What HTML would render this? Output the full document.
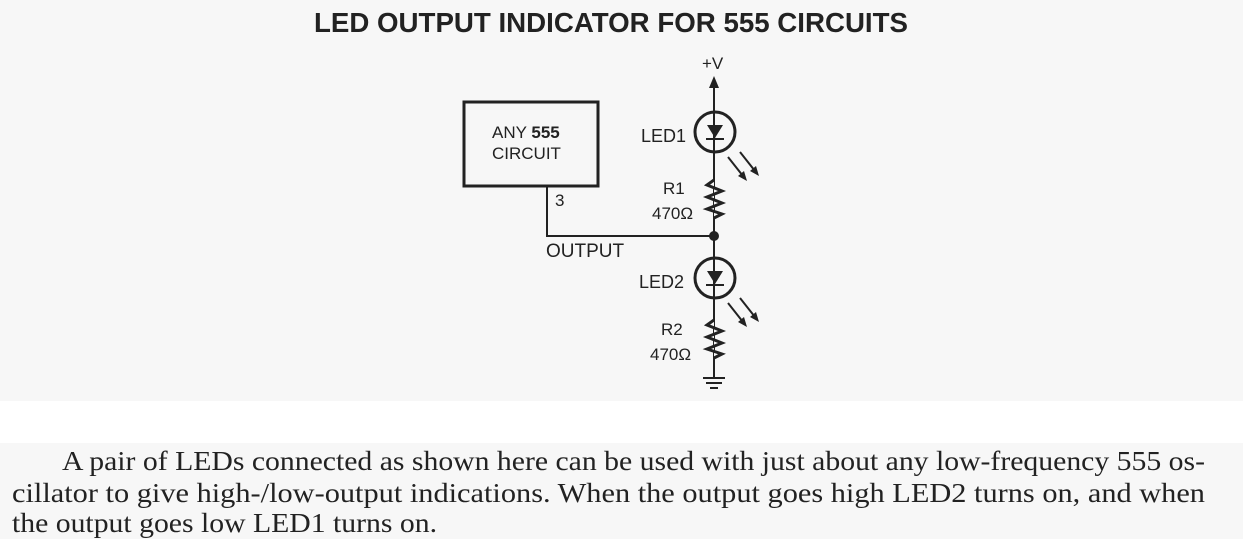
<!DOCTYPE html>
<html><head><meta charset="utf-8"><style>
html,body{margin:0;padding:0;background:#f7f7f7;}
.w{position:relative;width:1243px;height:539px;overflow:hidden;background:#f7f7f7;}
svg{position:absolute;left:0;top:0;}
</style></head><body><div class="w">
<svg width="1243" height="539" viewBox="0 0 1243 539">
<rect x="0" y="401" width="1243" height="42" fill="#fff"/>
<text x="314" y="32" font-family="Liberation Sans, sans-serif" font-weight="bold" font-size="28" textLength="594" lengthAdjust="spacingAndGlyphs" fill="#222">LED OUTPUT INDICATOR FOR 555 CIRCUITS</text>
<g stroke="#222" fill="none" stroke-width="2">
<rect x="464" y="102" width="134" height="84" stroke-width="3"/>
<polyline points="547,186 547,236 714,236"/>
<line x1="714" y1="84" x2="714" y2="378"/>
<circle cx="715" cy="132" r="20" stroke-width="3"/>
<circle cx="715" cy="278" r="20" stroke-width="3"/>
<line x1="706" y1="139" x2="724" y2="139"/>
<line x1="706" y1="285" x2="724" y2="285"/>
<polyline points="714,180 707,185 722,191 707,197 722,203 707,209 722,214 714,218" fill="#f7f7f7" stroke-width="3"/>
<polyline points="714,320 707,325 722,331 707,337 722,343 707,349 722,354 714,358" fill="#f7f7f7" stroke-width="3"/>
<line x1="703" y1="378" x2="725" y2="378"/>
<line x1="706" y1="383" x2="722" y2="383"/>
<line x1="710" y1="388" x2="718" y2="388"/>
<line x1="728" y1="157" x2="743" y2="176"/>
<line x1="740" y1="152" x2="755" y2="171"/>
<line x1="728" y1="303" x2="743" y2="322"/>
<line x1="740" y1="298" x2="755" y2="317"/>
</g>
<g fill="#222">
<polygon points="714,76 709,88 719,88"/>
<polygon points="707,125 723,125 715,138"/>
<polygon points="707,271 723,271 715,284"/>
<circle cx="714" cy="236" r="5"/>
<polygon points="747,181 738,176 744,171"/>
<polygon points="759,176 750,171 756,166"/>
<polygon points="747,327 738,322 744,317"/>
<polygon points="759,322 750,317 756,312"/>
</g>
<g font-family="Liberation Sans, sans-serif" font-size="17" fill="#222">
<text x="702" y="69">+V</text>
<text x="492" y="138">ANY <tspan font-weight="bold">555</tspan></text>
<text x="492" y="159">CIRCUIT</text>
<text x="555" y="206">3</text>
<text x="546" y="257" font-size="19">OUTPUT</text>
<text x="641" y="142" font-size="18">LED1</text>
<text x="639" y="288" font-size="18">LED2</text>
<text x="663" y="194">R1</text>
<text x="652" y="219">470Ω</text>
<text x="661" y="335">R2</text>
<text x="650" y="360">470Ω</text>
</g>
<g font-family="Liberation Serif, serif" font-size="27" fill="#222">
<text x="62" y="470" textLength="1143" lengthAdjust="spacingAndGlyphs">A pair of LEDs connected as shown here can be used with just about any low-frequency 555 os-</text>
<text x="12" y="502" textLength="1193" lengthAdjust="spacingAndGlyphs">cillator to give high-/low-output indications. When the output goes high LED2 turns on, and when</text>
<text x="12" y="532" textLength="425" lengthAdjust="spacingAndGlyphs">the output goes low LED1 turns on.</text>
</g>
</svg>
</div></body></html>
